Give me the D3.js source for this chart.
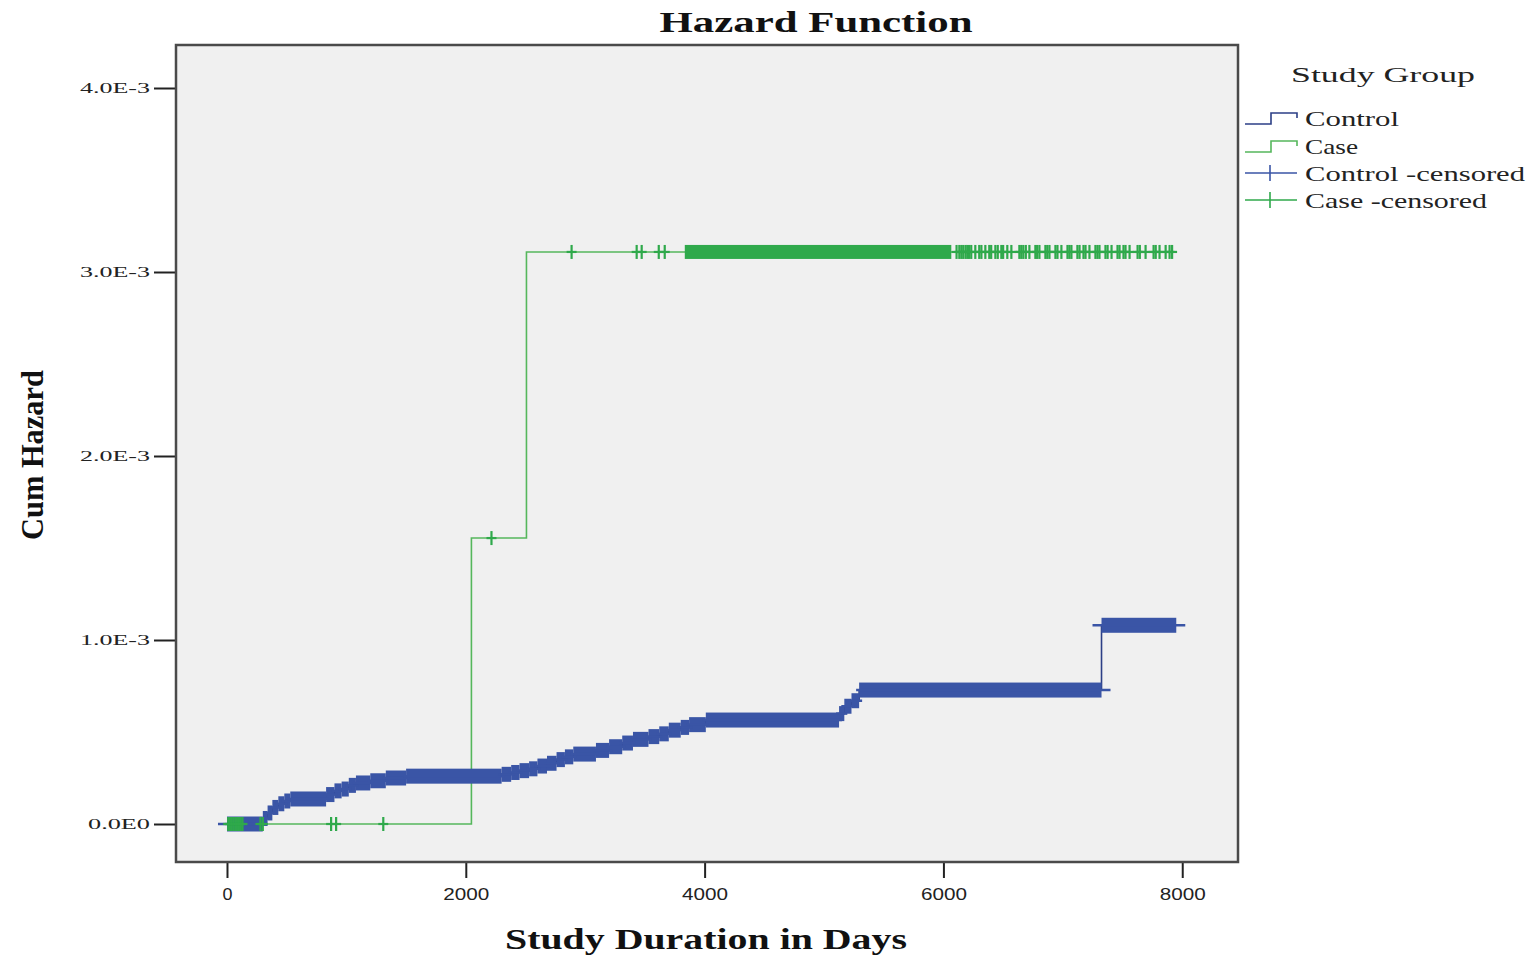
<!DOCTYPE html>
<html><head><meta charset="utf-8">
<script src="https://cdn.jsdelivr.net/npm/d3@7"></script>
<style>html,body{margin:0;padding:0;background:#fff;}svg{display:block;}</style>
</head><body>
<svg id="chart" width="1533" height="957"></svg>
<script>
// ---- data ----
const xTicks = [0, 2000, 4000, 6000, 8000];
const yTicks = [0, 0.001, 0.002, 0.003, 0.004];
const yTickLabels = ["0.0E0", "1.0E-3", "2.0E-3", "3.0E-3", "4.0E-3"];

// Control: step times (days) and cumulative hazard
const controlTimes = [0, 300, 340, 380, 430, 480, 530, 830, 900, 960, 1020, 1080, 1200, 1330, 1500, 2300, 2380, 2450, 2530, 2600, 2680, 2760, 2830, 2900, 3090, 3200, 3310, 3400, 3530, 3620, 3700, 3800, 3870, 4010, 5126, 5170, 5230, 5294, 7324];
const controlHazard = [0, 0.00003, 0.00006, 0.00009, 0.00011, 0.000125, 0.000136, 0.00016, 0.00018, 0.00019, 0.00021, 0.000223, 0.000235, 0.00025, 0.00026, 0.00027, 0.00028, 0.00029, 0.00030, 0.000315, 0.00033, 0.00035, 0.000365, 0.00038, 0.00040, 0.00042, 0.00044, 0.00046, 0.000475, 0.00049, 0.00051, 0.000525, 0.00054, 0.000565, 0.00060, 0.00064, 0.00067, 0.000728, 0.00108];
const controlEnd = 7950;

// Case: step times and cumulative hazard
const caseTimes = [0, 2047, 2508];
const caseHazard = [0, 0.001554, 0.003109];
const caseEnd = 7930;

// Case censored observations (days), individually visible
const caseCensored = [10, 25, 40, 55, 70, 85, 100, 115, 130, 280, 300, 872, 914, 1309, 2215, 2886, 3431, 3473, 3616, 3666,
  6110, 6133, 6150, 6166, 6185, 6200, 6215, 6233, 6267, 6300, 6318, 6351, 6384, 6400, 6435, 6455, 6485, 6500, 6535, 6569,
  6636, 6652, 6669, 6690, 6720, 6770, 6785, 6804, 6854, 6870, 6888, 6938, 6955, 6988, 7039, 7055, 7072, 7122, 7140,
  7173, 7190, 7223, 7273, 7290, 7307, 7357, 7375, 7408, 7458, 7475, 7508, 7525, 7559, 7626, 7645, 7693, 7760, 7778,
  7810, 7861, 7894, 7915];
// Case censored observations too dense to separate (start, end in days)
const caseCensoredDense = [[3834, 6066]];

// legend
const legendTitle = "Study Group";
const legendLabels = ["Control", "Case", "Control -censored", "Case -censored"];

// ---- drawing ----
const svg = d3.select("#chart");
const colControl = "#3a55a6", colControlLine = "#2c3f86";
const colCase = "#55b75c", colCaseMark = "#2fa94b";

const x = d3.scaleLinear().domain([-427, 8467]).range([176, 1238]);
const y = d3.scaleLinear().domain([-0.0002065, 0.0042337]).range([862, 45]);

// plot background
svg.append("rect").attr("x", 176).attr("y", 45).attr("width", 1062).attr("height", 817)
  .attr("fill", "#f0f0f0");

// axes
const xAxis = d3.axisBottom(x).tickValues(xTicks).tickSize(16).tickFormat(d3.format("d"));
const gx = svg.append("g").attr("transform", "translate(0,862)").call(xAxis);
gx.select(".domain").remove();
gx.selectAll(".tick line").attr("stroke", "#222").attr("stroke-width", 2);
gx.selectAll(".tick text").attr("y", 26).attr("dy", "0.71em")
  .style("font-family", "'Liberation Sans', Arial, sans-serif").style("font-size", "17px").attr("fill", "#222")
  .attr("textLength", d => d === 0 ? 10 : 46).attr("lengthAdjust", "spacingAndGlyphs");

const yAxis = d3.axisLeft(y).tickValues(yTicks).tickSize(22).tickFormat((d, i) => yTickLabels[i]);
const gy = svg.append("g").attr("transform", "translate(176,0)").call(yAxis);
gy.select(".domain").remove();
gy.selectAll(".tick line").attr("stroke", "#222").attr("stroke-width", 2);
gy.selectAll(".tick text").attr("x", -26)
  .style("font-family", "'Liberation Serif', serif").style("font-size", "15px").attr("fill", "#222")
  .attr("textLength", (d, i) => i === 0 ? 62 : 70).attr("lengthAdjust", "spacingAndGlyphs");

// case step line
const casePts = caseTimes.map((t, i) => [t, caseHazard[i]]);
casePts.push([caseEnd, caseHazard[caseHazard.length - 1]]);
const stepLine = d3.line().x(d => x(d[0])).y(d => y(d[1])).curve(d3.curveStepAfter);
svg.append("path").attr("d", stepLine(casePts)).attr("fill", "none")
  .attr("stroke", colCase).attr("stroke-width", 1.6);

// control step line (thin)
const ctrlPts = controlTimes.map((t, i) => [t, controlHazard[i]]);
ctrlPts.push([controlEnd, controlHazard[controlHazard.length - 1]]);
svg.append("path").attr("d", stepLine(ctrlPts)).attr("fill", "none")
  .attr("stroke", colControlLine).attr("stroke-width", 1.6);

// control censored marks: dense along every step -> band of "+" marks
const band = 15;
const ctrlSeg = controlTimes.map((t, i) => ({
  t0: t, t1: i < controlTimes.length - 1 ? controlTimes[i + 1] : controlEnd, h: controlHazard[i],
  bigL: i > 0 && controlHazard[i] - controlHazard[i - 1] > 0.0002,
  bigR: i === controlTimes.length - 1 || controlHazard[i + 1] - controlHazard[i] > 0.0002
}));
svg.append("g").selectAll("rect").data(ctrlSeg).join("rect")
  .attr("x", d => x(d.t0)).attr("width", d => x(d.t1) - x(d.t0))
  .attr("y", d => y(d.h) - band / 2).attr("height", band).attr("fill", colControl);
svg.append("g").selectAll("line").data(ctrlSeg).join("line")
  .attr("x1", d => x(d.t0) - (d.bigL || d.t0 === 0 ? 9 : 3)).attr("x2", d => x(d.t1) + (d.bigR ? 9 : 3))
  .attr("y1", d => y(d.h)).attr("y2", d => y(d.h))
  .attr("stroke", colControl).attr("stroke-width", 2.5);

// case censored marks
function hazardAt(t) {
  let h = 0;
  caseTimes.forEach((ct, i) => { if (t >= ct) h = caseHazard[i]; });
  return h;
}
const cm = svg.append("g").attr("stroke", colCaseMark).attr("stroke-width", 2.2);
caseCensored.forEach(t => {
  const cx = x(t), cy = y(hazardAt(t));
  cm.append("line").attr("x1", cx).attr("x2", cx).attr("y1", cy - 7).attr("y2", cy + 7);
  cm.append("line").attr("x1", cx - 5).attr("x2", cx + 5).attr("y1", cy).attr("y2", cy);
});
caseCensoredDense.forEach(([a, b]) => {
  const cy = y(hazardAt(a));
  svg.append("rect").attr("x", x(a)).attr("width", x(b) - x(a)).attr("y", cy - 7).attr("height", 14)
    .attr("fill", colCaseMark);
});

// plot frame
svg.append("rect").attr("x", 176).attr("y", 45).attr("width", 1062).attr("height", 817)
  .attr("fill", "none").attr("stroke", "#4a4a4a").attr("stroke-width", 2.5);

// titles
svg.append("text").attr("x", 816).attr("y", 32).attr("text-anchor", "middle")
  .style("font-family", "'Liberation Serif', serif").style("font-weight", "bold").style("font-size", "29px")
  .attr("textLength", 313).attr("lengthAdjust", "spacingAndGlyphs").attr("fill", "#111")
  .text("Hazard Function");
svg.append("text").attr("x", 706).attr("y", 949).attr("text-anchor", "middle")
  .style("font-family", "'Liberation Serif', serif").style("font-weight", "bold").style("font-size", "29px")
  .attr("textLength", 402).attr("lengthAdjust", "spacingAndGlyphs").attr("fill", "#111")
  .text("Study Duration in Days");
svg.append("text").attr("transform", "translate(43,455) rotate(-90)").attr("text-anchor", "middle")
  .style("font-family", "'Liberation Serif', serif").style("font-weight", "bold").style("font-size", "31px")
  .attr("textLength", 170).attr("lengthAdjust", "spacingAndGlyphs").attr("fill", "#111")
  .text("Cum Hazard");

// legend
const lg = svg.append("g");
lg.append("text").attr("x", 1291).attr("y", 82)
  .style("font-family", "'Liberation Serif', serif").style("font-size", "22px").attr("fill", "#222")
  .attr("textLength", 184).attr("lengthAdjust", "spacingAndGlyphs").text(legendTitle);
const rowY = [119, 147, 174, 201];
const textW = [94, 53, 220, 182];
legendLabels.forEach((lab, i) => {
  lg.append("text").attr("x", 1305).attr("y", rowY[i] + 7)
    .style("font-family", "'Liberation Serif', serif").style("font-size", "21px").attr("fill", "#222")
    .attr("textLength", textW[i]).attr("lengthAdjust", "spacingAndGlyphs").text(lab);
});
[[0, colControlLine], [1, colCase]].forEach(([i, c]) => {
  const b = rowY[i] + 5, t = rowY[i] - 6;
  lg.append("path").attr("d", `M1245,${b}H1271V${t}H1297V${t + 5}`)
    .attr("fill", "none").attr("stroke", c).attr("stroke-width", 1.6);
});
[[2, colControl], [3, colCaseMark]].forEach(([i, c]) => {
  const cy = rowY[i] - 1;
  lg.append("line").attr("x1", 1245).attr("x2", 1297).attr("y1", cy).attr("y2", cy)
    .attr("stroke", c).attr("stroke-width", 1.6);
  lg.append("line").attr("x1", 1270).attr("x2", 1270).attr("y1", cy - 8).attr("y2", cy + 8)
    .attr("stroke", c).attr("stroke-width", 1.6);
});
</script>
</body></html>
